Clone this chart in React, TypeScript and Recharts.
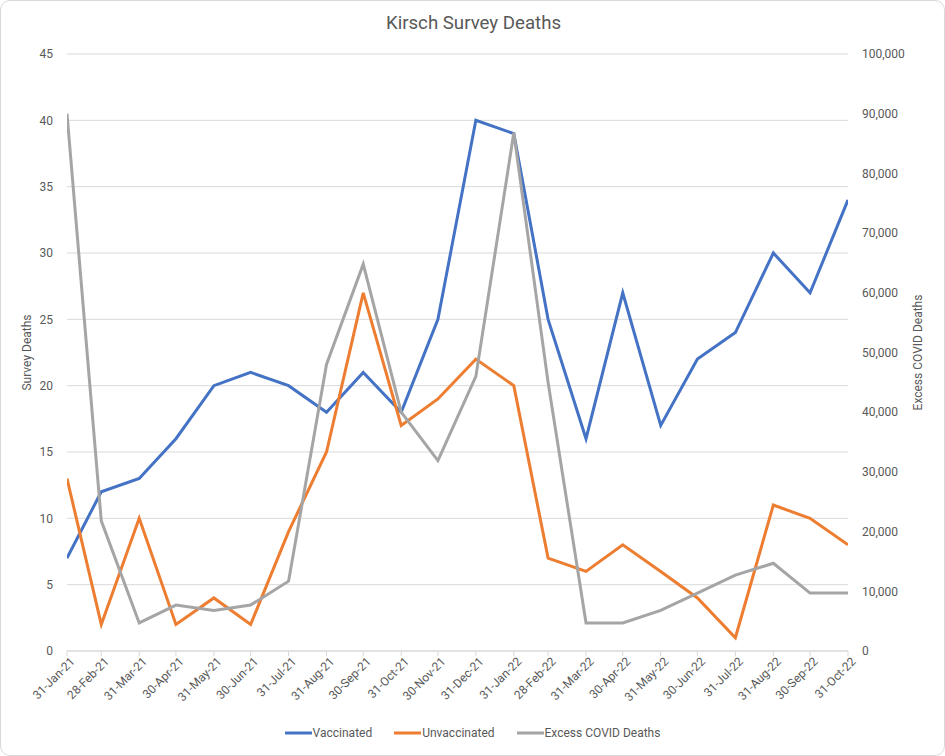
import React from "react";
import { LineChart, Line, XAxis, YAxis, CartesianGrid, Legend, Label } from "recharts";

const dates = [
  "2021-01-31", "2021-02-28", "2021-03-31", "2021-04-30", "2021-05-31", "2021-06-30",
  "2021-07-31", "2021-08-31", "2021-09-30", "2021-10-31", "2021-11-30", "2021-12-31",
  "2022-01-31", "2022-02-28", "2022-03-31", "2022-04-30", "2022-05-31", "2022-06-30",
  "2022-07-31", "2022-08-31", "2022-09-30", "2022-10-31",
];
const tickLabels = [
  "31-Jan-21", "28-Feb-21", "31-Mar-21", "30-Apr-21", "31-May-21", "30-Jun-21",
  "31-Jul-21", "31-Aug-21", "30-Sep-21", "31-Oct-21", "30-Nov-21", "31-Dec-21",
  "31-Jan-22", "28-Feb-22", "31-Mar-22", "30-Apr-22", "31-May-22", "30-Jun-22",
  "31-Jul-22", "31-Aug-22", "30-Sep-22", "31-Oct-22",
];
const vaccinated = [7, 12, 13, 16, 20, 21, 20, 18, 21, 18, 25, 40, 39, 25, 16, 27, 17, 22, 24, 30, 27, 34];
const unvaccinated = [13, 2, 10, 2, 4, 2, 9, 15, 27, 17, 19, 22, 20, 7, 6, 8, 6, 4, 1, 11, 10, 8];
const excessDeaths = [
  90000, 21800, 4700, 7700, 6800, 7700, 11700, 48000, 64800, 40000, 31900, 46000,
  86800, 45000, 4700, 4700, 6800, 9700, 12700, 14700, 9700, 9700,
];
const leftTicks = [0, 5, 10, 15, 20, 25, 30, 35, 40, 45];
const rightTicks = [0, 10000, 20000, 30000, 40000, 50000, 60000, 70000, 80000, 90000, 100000];

const DAY = 86400000;
const toDay = (s: string) => Math.round(Date.parse(s + "T00:00:00Z") / DAY);
const dayValues = dates.map(toDay);
const labelByDay: Record<number, string> = {};
dayValues.forEach((d, i) => (labelByDay[d] = tickLabels[i]));

const data = dates.map((d, i) => ({
  t: dayValues[i],
  vaccinated: vaccinated[i],
  unvaccinated: unvaccinated[i],
  excess: excessDeaths[i],
}));

const TEXT = "#595959";
const GRID = "#d9d9d9";
const FONT = "Roboto, 'Noto Sans', sans-serif";

const series = [
  { key: "vaccinated", name: "Vaccinated", color: "#4472C4", axis: "left" },
  { key: "unvaccinated", name: "Unvaccinated", color: "#ED7D31", axis: "left" },
  { key: "excess", name: "Excess COVID Deaths", color: "#A5A5A5", axis: "right" },
];

const XTick = (props: any) => {
  const { x, y, payload } = props;
  return (
    <g transform={`translate(${x},${y})`}>
      <text
        x={0}
        y={0}
        dy={9}
        dx={3}
        textAnchor="end"
        fill={TEXT}
        fontSize={12}
        fontFamily={FONT}
        transform="rotate(-45)"
      >
        {labelByDay[payload.value]}
      </text>
    </g>
  );
};

const LegendContent = () => (
  <div
    style={{
      display: "flex",
      justifyContent: "center",
      alignItems: "center",
      gap: 22,
      fontFamily: FONT,
      fontSize: 12,
      color: TEXT,
      height: 24,
    }}
  >
    {series.map((s) => (
      <div key={s.key} style={{ display: "flex", alignItems: "center" }}>
        <svg width={27} height={4} style={{ marginRight: 1 }}>
          <line x1={0} y1={2} x2={27} y2={2} stroke={s.color} strokeWidth={3} />
        </svg>
        <span>{s.name}</span>
      </div>
    ))}
  </div>
);

const axisLabel = (text: string, offsetX: number) => (props: any) => {
  const vb = props.viewBox || {};
  const cx = vb.x + offsetX;
  const cy = vb.y + vb.height / 2;
  return (
    <text
      x={cx}
      y={cy}
      transform={`rotate(-90, ${cx}, ${cy})`}
      textAnchor="middle"
      dominantBaseline="central"
      fill={TEXT}
      fontSize={12}
      fontFamily={FONT}
    >
      {text}
    </text>
  );
};

export default function App() {
  return (
    <div
      style={{
        position: "relative",
        width: 945,
        height: 756,
        background: "#fff",
        boxSizing: "border-box",
        border: "1px solid #d9d9d9",
        borderRadius: 10,
        overflow: "hidden",
      }}
    >
      <style>{`body{margin:0;}`}</style>
      <div
        style={{
          position: "absolute",
          top: 10,
          left: 0,
          width: 945,
          textAlign: "center",
          fontFamily: FONT,
          fontSize: 18.67,
          lineHeight: "24px",
          color: TEXT,
        }}
      >
        Kirsch Survey Deaths
      </div>
      <div style={{ position: "absolute", left: -1, top: -1 }}>
        <LineChart
          width={945}
          height={756}
          data={data}
          margin={{ top: 54, right: 0, left: 0, bottom: 11 }}
        >
          <CartesianGrid yAxisId="left" vertical={false} stroke={GRID} strokeWidth={1} />
          <XAxis
            dataKey="t"
            type="number"
            domain={[dayValues[0], dayValues[dayValues.length - 1]]}
            ticks={dayValues}
            interval={0}
            height={70}
            tick={<XTick />}
            tickSize={5}
            tickLine={{ stroke: GRID }}
            axisLine={{ stroke: GRID }}
            allowDataOverflow
          />
          <YAxis
            yAxisId="left"
            orientation="left"
            width={67}
            domain={[0, 45]}
            ticks={leftTicks}
            interval={0}
            axisLine={false}
            tickLine={false}
            tickMargin={8}
            tick={{ fill: TEXT, fontSize: 12, fontFamily: FONT }}
          >
            <Label content={axisLabel("Survey Deaths", 27)} />
          </YAxis>
          <YAxis
            yAxisId="right"
            orientation="right"
            width={97}
            domain={[0, 100000]}
            ticks={rightTicks}
            interval={0}
            axisLine={false}
            tickLine={false}
            tickMargin={8}
            tickFormatter={(v: number) => v.toLocaleString("en-US")}
            tick={{ fill: TEXT, fontSize: 12, fontFamily: FONT }}
          >
            <Label content={axisLabel("Excess COVID Deaths", 70)} />
          </YAxis>
          <Legend verticalAlign="bottom" height={24} content={<LegendContent />} />
          {series.map((s) => (
            <Line
              key={s.key}
              yAxisId={s.axis}
              type="linear"
              dataKey={s.key}
              name={s.name}
              stroke={s.color}
              strokeWidth={3}
              dot={false}
              activeDot={false}
              isAnimationActive={false}
            />
          ))}
        </LineChart>
      </div>
    </div>
  );
}
